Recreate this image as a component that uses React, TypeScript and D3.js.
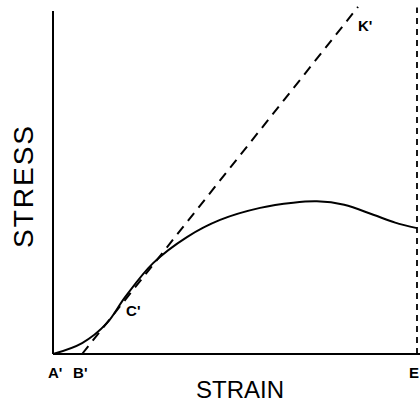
import React, { useEffect, useRef } from 'react';
import * as d3 from 'd3';

// stress-strain curve (strain %, stress %)
const curveStrain = [0, 8, 14.8, 19.8, 27.5, 36.8, 45.9, 56.9, 66, 72.5, 80, 88, 94, 100];
const curveStress = [0, 3.2, 9.0, 16.6, 26.5, 34.1, 39.1, 42.6, 44.1, 44.5, 43.5, 40.6, 38.3, 36.7];

// dashed elastic line B' -> K'
const lineStrain = [8, 83.8];
const lineStress = [0, 101.2];

// vertical dashed line at E
const eStrain = 100;
const eStress = [0, 101];

const pointLabels = [
  { text: "A'", x: 0, y: 0, dx: -5, dy: 24 },
  { text: "B'", x: 8, y: 0, dx: -9, dy: 24 },
  { text: 'E', x: 100, y: 0, dx: -8, dy: 24 },
  { text: "C'", x: 19.8, y: 16.6, dx: 1, dy: 19 },
  { text: "K'", x: 83.8, y: 101.2, dx: 0, dy: 24 },
];

export default function App() {
  const ref = useRef<SVGSVGElement>(null);

  useEffect(() => {
    const svg = d3.select(ref.current);
    svg.selectAll('*').remove();

    const x = d3.scaleLinear().domain([0, 100]).range([53, 417]);
    const y = d3.scaleLinear().domain([0, 100]).range([354, 11]);

    // axes
    svg.append('line')
      .attr('x1', x(0)).attr('x2', x(0))
      .attr('y1', y(0)).attr('y2', y(100))
      .attr('stroke', '#000').attr('stroke-width', 2);
    svg.append('line')
      .attr('x1', x(0)).attr('x2', 420)
      .attr('y1', y(0)).attr('y2', y(0))
      .attr('stroke', '#000').attr('stroke-width', 2);

    // elastic dashed line
    svg.append('line')
      .attr('x1', x(lineStrain[0])).attr('y1', y(lineStress[0]))
      .attr('x2', x(lineStrain[1])).attr('y2', y(lineStress[1]))
      .attr('stroke', '#000').attr('stroke-width', 2)
      .attr('stroke-dasharray', '10 7');

    // vertical dashed at E
    svg.append('line')
      .attr('x1', x(eStrain)).attr('x2', x(eStrain))
      .attr('y1', y(eStress[0])).attr('y2', y(eStress[1]))
      .attr('stroke', '#000').attr('stroke-width', 1.8)
      .attr('stroke-dasharray', '6 5');

    const pts = curveStrain.map((s, i) => [s, curveStress[i]] as [number, number]);
    const line = d3.line<[number, number]>()
      .x(d => x(d[0]))
      .y(d => y(d[1]))
      .curve(d3.curveCatmullRom);
    svg.append('path')
      .datum(pts)
      .attr('d', line)
      .attr('fill', 'none')
      .attr('stroke', '#000')
      .attr('stroke-width', 2);

    svg.selectAll('text.pt')
      .data(pointLabels)
      .enter()
      .append('text')
      .attr('class', 'pt')
      .attr('x', d => x(d.x) + d.dx)
      .attr('y', d => y(d.y) + d.dy)
      .attr('font-family', 'Liberation Sans, Arial, sans-serif')
      .attr('font-weight', 'bold')
      .attr('font-size', 15)
      .text(d => d.text);

    svg.append('text')
      .attr('x', 240).attr('y', 398)
      .attr('text-anchor', 'middle')
      .attr('font-family', 'Liberation Sans, Arial, sans-serif')
      .attr('font-size', 24)
      .text('STRAIN');

    svg.append('text')
      .attr('transform', 'translate(33,187) rotate(-90)')
      .attr('text-anchor', 'middle')
      .attr('font-family', 'Liberation Sans, Arial, sans-serif')
      .attr('font-size', 28)
      .attr('textLength', 122)
      .text('STRESS');
  }, []);

  return (
    <svg
      ref={ref}
      width={420}
      height={404}
      style={{ position: 'absolute', left: 0, top: 0, background: '#fff' }}
    />
  );
}
